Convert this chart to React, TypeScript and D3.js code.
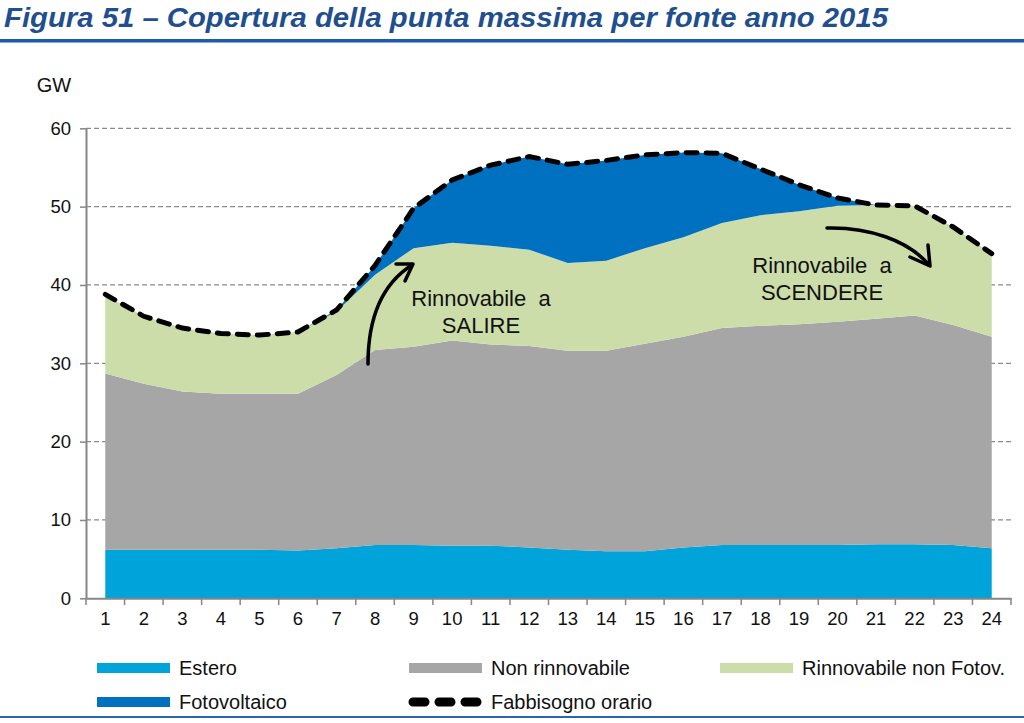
import React, { useEffect, useRef } from 'react';
import * as d3 from 'd3';

// ore del giorno
const hours = ['1', '2', '3', '4', '5', '6', '7', '8', '9', '10', '11', '12',
  '13', '14', '15', '16', '17', '18', '19', '20', '21', '22', '23', '24'];

// GW per fonte
const estero = [6.2, 6.2, 6.2, 6.2, 6.2, 6.1, 6.4, 6.8, 6.8, 6.7, 6.7, 6.5,
  6.2, 6.0, 6.0, 6.5, 6.8, 6.8, 6.8, 6.8, 6.9, 6.9, 6.8, 6.4];
const nonRinnovabile = [22.5, 21.2, 20.2, 19.9, 19.9, 20.0, 22.1, 24.9, 25.3, 26.2, 25.7, 25.7,
  25.4, 25.6, 26.5, 26.9, 27.7, 28.0, 28.2, 28.5, 28.8, 29.2, 28.1, 27.0];
const rinnovabile = [10.0, 8.6, 8.1, 7.7, 7.5, 7.9, 8.1, 9.6, 12.6, 12.5, 12.6, 12.3,
  11.2, 11.5, 12.2, 12.7, 13.4, 14.1, 14.4, 14.8, 14.5, 14.0, 12.5, 10.6];
const fotovoltaico = [0, 0, 0, 0, 0, 0, 0.2, 1.2, 5.1, 8.0, 10.3, 11.9,
  12.6, 12.8, 11.9, 10.8, 8.9, 5.9, 3.4, 1.0, 0, 0, 0, 0];
const fabbisogno = [38.8, 36.0, 34.5, 33.8, 33.6, 34.0, 36.8, 42.5, 49.8, 53.4, 55.3, 56.4,
  55.4, 55.9, 56.6, 56.9, 56.8, 54.8, 52.8, 51.1, 50.2, 50.1, 47.4, 44.0];

const yTicks = [0, 10, 20, 30, 40, 50, 60];

const keys = ['estero', 'nonRinnovabile', 'rinnovabile', 'fotovoltaico'];
const colors = {
  estero: '#00A3DA',
  nonRinnovabile: '#A6A6A6',
  rinnovabile: '#CCDDAA',
  fotovoltaico: '#0070C0',
};

const FONT = '"Liberation Sans", Arial, sans-serif';

export default function App() {
  const svgRef = useRef(null);

  useEffect(() => {
    const svg = d3.select(svgRef.current);
    svg.selectAll('*').remove();

    const rows = hours.map((h, i) => ({
      hour: h,
      estero: estero[i],
      nonRinnovabile: nonRinnovabile[i],
      rinnovabile: rinnovabile[i],
      fotovoltaico: fotovoltaico[i],
    }));
    const layers = d3.stack().keys(keys)(rows);

    const x = d3.scaleBand().domain(hours).range([86, 1011]);
    const cx = (h) => x(h) + x.bandwidth() / 2;
    const y = d3.scaleLinear().domain([0, 60]).range([598.3, 128.3]);

    // titolo
    svg.append('text')
      .attr('x', 4).attr('y', 27)
      .attr('font-family', FONT).attr('font-size', 27)
      .attr('font-weight', 'bold').attr('font-style', 'italic')
      .attr('fill', '#1F4F8F')
      .attr('textLength', 884).attr('lengthAdjust', 'spacingAndGlyphs')
      .text('Figura 51 – Copertura della punta massima per fonte anno 2015');
    svg.append('rect').attr('x', 0).attr('y', 39).attr('width', 1024).attr('height', 3.5)
      .attr('fill', '#1F5AA6');
    svg.append('rect').attr('x', 0).attr('y', 716).attr('width', 1024).attr('height', 2)
      .attr('fill', '#2A65B0');

    // griglia
    svg.append('g')
      .selectAll('line')
      .data(yTicks.filter((t) => t > 0))
      .join('line')
      .attr('x1', 86).attr('x2', 1011)
      .attr('y1', (d) => y(d)).attr('y2', (d) => y(d))
      .attr('stroke', '#8C8C8C').attr('stroke-width', 1.3)
      .attr('stroke-dasharray', '5 3');

    // aree
    const area = d3.area()
      .x((d) => cx(d.data.hour))
      .y0((d) => y(d[0]))
      .y1((d) => y(d[1]));
    svg.append('g')
      .selectAll('path')
      .data(layers)
      .join('path')
      .attr('fill', (l) => colors[l.key])
      .attr('d', area);

    // asse y
    const yAxis = d3.axisLeft(y).tickValues(yTicks).tickSize(6).tickSizeOuter(0).tickPadding(9);
    svg.append('g')
      .attr('transform', 'translate(86,0)')
      .call(yAxis)
      .call((g) => g.select('.domain').attr('stroke', '#868686').attr('stroke-width', 2))
      .call((g) => g.selectAll('.tick line').attr('stroke', '#868686').attr('stroke-width', 1.5))
      .call((g) => g.selectAll('.tick text')
        .attr('font-family', FONT).attr('font-size', 18.5).attr('fill', '#111'));

    // asse x
    const xAxis = d3.axisBottom(x).tickSize(0).tickPadding(14);
    svg.append('g')
      .attr('transform', 'translate(0,598.3)')
      .call(xAxis)
      .call((g) => g.select('.domain').attr('stroke', '#868686').attr('stroke-width', 2))
      .call((g) => g.selectAll('.tick text')
        .attr('font-family', FONT).attr('font-size', 18.5).attr('fill', '#111'));
    svg.append('g')
      .selectAll('line')
      .data(hours.map((h) => x(h)).concat([x.range()[1]]))
      .join('line')
      .attr('x1', (d) => d).attr('x2', (d) => d)
      .attr('y1', 598.3).attr('y2', 605)
      .attr('stroke', '#868686').attr('stroke-width', 1.5);

    svg.append('text')
      .attr('x', 54).attr('y', 92).attr('text-anchor', 'middle')
      .attr('font-family', FONT).attr('font-size', 20).attr('fill', '#111')
      .text('GW');

    // fabbisogno orario
    const line = d3.line()
      .x((d, i) => cx(hours[i]))
      .y((d) => y(d));
    svg.append('path')
      .datum(fabbisogno)
      .attr('fill', 'none')
      .attr('stroke', '#000')
      .attr('stroke-width', 5)
      .attr('stroke-linecap', 'round')
      .attr('stroke-dasharray', '11 9')
      .attr('d', line);

    // annotazioni
    const notes = [
      { lines: ['Rinnovabile  a', 'SALIRE'], x: 481, y: 306 },
      { lines: ['Rinnovabile  a', 'SCENDERE'], x: 822, y: 273 },
    ];
    notes.forEach((n) => {
      const t = svg.append('text')
        .attr('font-family', FONT).attr('font-size', 22).attr('fill', '#111')
        .attr('text-anchor', 'middle')
        .attr('xml:space', 'preserve')
        .style('white-space', 'pre');
      n.lines.forEach((s, i) => {
        t.append('tspan').attr('x', n.x).attr('y', n.y + i * 27).text(s);
      });
    });

    const arrow = svg.append('g')
      .attr('fill', 'none').attr('stroke', '#000').attr('stroke-width', 3.5)
      .attr('stroke-linecap', 'round').attr('stroke-linejoin', 'round');
    arrow.append('path').attr('d', 'M368,364 C368,318 382,284 412,265');
    arrow.append('path').attr('d', 'M396,264 L413,264 L405,281');
    arrow.append('path').attr('d', 'M827,228 C868,227 908,240 929,265');
    arrow.append('path').attr('d', 'M928,245 L930,266 L910,257');

    // legenda
    const legend = [
      { label: 'Estero', key: 'estero', x: 97, y: 668 },
      { label: 'Non rinnovabile', key: 'nonRinnovabile', x: 409, y: 668 },
      { label: 'Rinnovabile non Fotov.', key: 'rinnovabile', x: 720, y: 668 },
      { label: 'Fotovoltaico', key: 'fotovoltaico', x: 97, y: 702 },
      { label: 'Fabbisogno orario', key: 'fabbisogno', x: 409, y: 702 },
    ];
    const lg = svg.append('g')
      .selectAll('g')
      .data(legend)
      .join('g')
      .attr('transform', (d) => `translate(${d.x},${d.y})`);
    lg.filter((d) => d.key !== 'fabbisogno')
      .append('rect')
      .attr('x', 0).attr('y', -5).attr('width', 73).attr('height', 10)
      .attr('fill', (d) => colors[d.key]);
    lg.filter((d) => d.key === 'fabbisogno')
      .append('line')
      .attr('x1', 4).attr('x2', 70).attr('y1', 0).attr('y2', 0)
      .attr('stroke', '#000').attr('stroke-width', 9)
      .attr('stroke-linecap', 'round')
      .attr('stroke-dasharray', '12 14');
    lg.append('text')
      .attr('x', 82).attr('y', 7)
      .attr('font-family', FONT).attr('font-size', 20).attr('fill', '#111')
      .text((d) => d.label);
  }, []);

  return (
    <svg ref={svgRef} width={1024} height={723}
      style={{ position: 'absolute', left: 0, top: 0, background: '#fff' }} />
  );
}
